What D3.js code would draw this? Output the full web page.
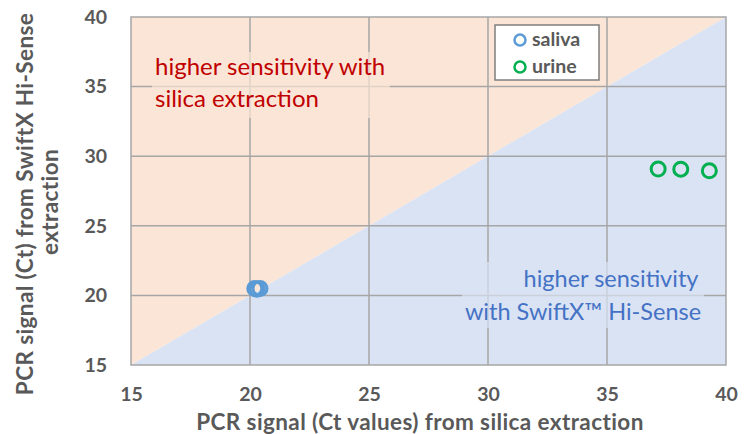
<!DOCTYPE html>
<html><head><meta charset="utf-8">
<script src="https://cdn.jsdelivr.net/npm/d3@7"></script>
<style>body{margin:0;background:#fff}svg{display:block}text{font-family:Lato,"Open Sans",sans-serif}</style>
</head><body>
<script>
const xTicks = [15, 20, 25, 30, 35, 40];
const yTicks = [15, 20, 25, 30, 35, 40];
const salivaX = [20.2, 20.3, 20.42];
const salivaY = [20.5, 20.45, 20.5];
const urineX = [37.15, 38.1, 39.3];
const urineY = [29.08, 29.07, 28.95];
const seriesNames = ["saliva", "urine"];
const seriesColors = ["#5B9BD5", "#00B050"];

const W = 748, H = 434;
const svg = d3.select("body").append("svg").attr("width", W).attr("height", H);
const x = d3.scaleLinear().domain([15, 40]).range([131, 726]);
const y = d3.scaleLinear().domain([15, 40]).range([365, 17]);

// background regions
svg.append("path")
  .attr("d", `M${x(15)},${y(15)}L${x(15)},${y(40)}L${x(40)},${y(40)}Z`)
  .attr("fill", "#FBE5D6");
svg.append("path")
  .attr("d", `M${x(15)},${y(15)}L${x(40)},${y(40)}L${x(40)},${y(15)}Z`)
  .attr("fill", "#DAE3F3");

// gridlines
const g = svg.append("g");
g.selectAll(".vx").data(xTicks.slice(1, -1)).join("line")
  .attr("x1", d => x(d)).attr("x2", d => x(d)).attr("y1", y(40)).attr("y2", y(15))
  .attr("stroke", "#A6A6A6").attr("stroke-width", 1.5);
g.selectAll(".hy").data(yTicks.slice(1, -1)).join("line")
  .attr("y1", d => y(d)).attr("y2", d => y(d)).attr("x1", x(15)).attr("x2", x(40))
  .attr("stroke", "#A6A6A6").attr("stroke-width", 1.5);

// translucent text boxes
svg.append("rect").attr("x", 152).attr("y", 52).attr("width", 238).attr("height", 66)
  .attr("fill", "#FBE5D6").attr("opacity", 0.7);
svg.append("rect").attr("x", 462).attr("y", 262).attr("width", 242).attr("height", 66)
  .attr("fill", "#DAE3F3").attr("opacity", 0.7);

// border
svg.append("rect").attr("x", x(15)).attr("y", y(40)).attr("width", x(40) - x(15)).attr("height", y(15) - y(40))
  .attr("fill", "none").attr("stroke", "#A6A6A6").attr("stroke-width", 1.5);

// axes
const xAxis = svg.append("g").attr("transform", `translate(0,${y(15)})`)
  .call(d3.axisBottom(x).tickValues(xTicks).tickSize(0).tickPadding(22));
xAxis.select(".domain").remove();
xAxis.selectAll("text").attr("font-size", 19.5).attr("font-weight", "bold").attr("fill", "#595959")
  .attr("font-family", "Lato, sans-serif");
const yAxis = svg.append("g").attr("transform", `translate(${x(15)},0)`)
  .call(d3.axisLeft(y).tickValues(yTicks).tickSize(0).tickPadding(24));
yAxis.select(".domain").remove();
yAxis.selectAll("text").attr("font-size", 19.5).attr("font-weight", "bold").attr("fill", "#595959")
  .attr("font-family", "Lato, sans-serif");

// axis titles
svg.append("text").attr("x", 420).attr("y", 430).attr("text-anchor", "middle")
  .attr("font-size", 22.5).attr("font-weight", "bold").attr("fill", "#595959")
  .attr("letter-spacing", 0.4)
  .text("PCR signal (Ct values) from silica extraction");
const yt = svg.append("text").attr("transform", "rotate(-90)")
  .attr("text-anchor", "middle").attr("font-size", 22.5).attr("font-weight", "bold").attr("fill", "#595959")
  .attr("letter-spacing", 0.4);
yt.append("tspan").attr("x", -204).attr("y", 33).text("PCR signal (Ct) from SwiftX Hi-Sense");
yt.append("tspan").attr("x", -202).attr("y", 58).text("extraction");

// annotations
const red = svg.append("text").attr("font-size", 24).attr("fill", "#C00000");
red.append("tspan").attr("x", 155).attr("y", 75).text("higher sensitivity with");
red.append("tspan").attr("x", 155).attr("y", 107).text("silica extraction");
const blue = svg.append("text").attr("font-size", 23.5).attr("fill", "#4472C4").attr("text-anchor", "middle");
blue.append("tspan").attr("x", 611).attr("y", 287).text("higher sensitivity");
blue.append("tspan").attr("x", 583).attr("y", 320).text("with SwiftX™ Hi-Sense");

// points
const pts = [
  salivaX.map((v, i) => ({x: v, y: salivaY[i], s: 0})),
  urineX.map((v, i) => ({x: v, y: urineY[i], s: 1}))
].flat();
svg.append("g").selectAll("circle").data(pts).join("circle")
  .attr("cx", d => x(d.x)).attr("cy", d => y(d.y)).attr("r", 7)
  .attr("fill", "none").attr("stroke", d => seriesColors[d.s]).attr("stroke-width", 3);

// legend
const lg = svg.append("g");
lg.append("rect").attr("x", 495).attr("y", 25).attr("width", 104).attr("height", 55)
  .attr("fill", "#fff").attr("stroke", "#7F7F7F").attr("stroke-width", 1.5);
seriesNames.forEach((n, i) => {
  lg.append("circle").attr("cx", 520).attr("cy", 40 + i * 27).attr("r", 5.5)
    .attr("fill", "none").attr("stroke", seriesColors[i]).attr("stroke-width", 2.5);
  lg.append("text").attr("x", 532).attr("y", 46 + i * 27).attr("font-size", 19.5)
    .attr("font-weight", "bold").attr("fill", "#595959").text(n);
});
</script>
</body></html>
